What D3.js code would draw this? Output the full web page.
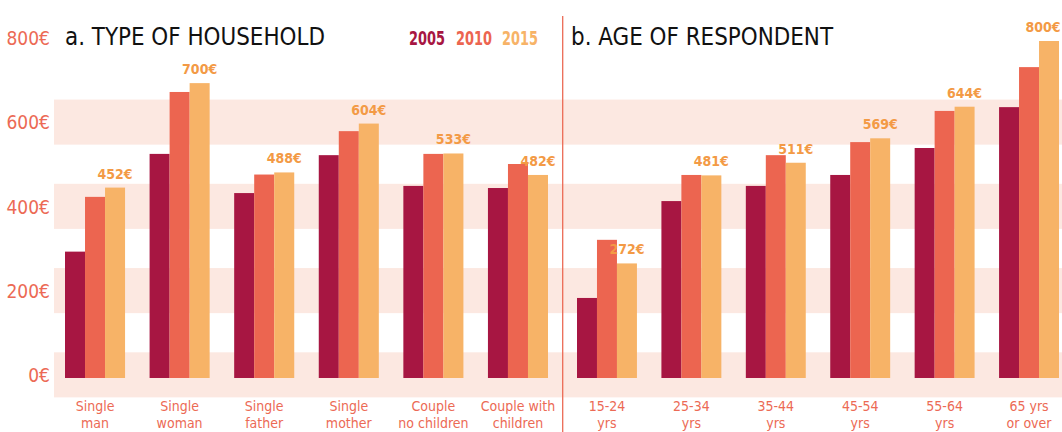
<!DOCTYPE html>
<html>
<head>
<meta charset="utf-8">
<script src="https://cdn.jsdelivr.net/npm/d3@7"></script>
<style>
  body { margin: 0; background: #fff; }
  text { font-family: "Liberation Sans Narrow", "DejaVu Sans Condensed", "Roboto", sans-serif; font-stretch: condensed; }
</style>
</head>
<body>
<svg id="chart"></svg>
<script>
// data
var years = ["2005", "2010", "2015"]

var householdLabels = [["Single", "man"], ["Single", "woman"], ["Single", "father"], ["Single", "mother"], ["Couple", "no children"], ["Couple with", "children"]]
var household2005 = [300, 532, 439, 529, 456, 451]
var household2010 = [430, 679, 483, 586, 532, 508]
var household2015 = [452, 700, 488, 604, 533, 482]

var ageLabels = [["15-24", "yrs"], ["25-34", "yrs"], ["35-44", "yrs"], ["45-54", "yrs"], ["55-64", "yrs"], ["65 yrs", "or over"]]
var age2005 = [190, 420, 456, 482, 546, 643]
var age2010 = [328, 482, 529, 560, 634, 738]
var age2015 = [272, 481, 511, 569, 644, 800]

var yTicks = [0, 200, 400, 600, 800]
var bandTicks = [0, 200, 400, 600]

var colors = {"2005": "#a71642", "2010": "#ec6550", "2015": "#f7b367"}
var salmon = "#ec6a55"
var labelOrange = "#f39a45"

var width = 1062, height = 432

var svg = d3.select("#chart")
    .attr("width", width)
    .attr("height", height)

var y = d3.scaleLinear()
    .domain([0, 800])
    .range([378, 41])

// pale bands behind the bars
svg.append("g")
    .selectAll("rect")
    .data(bandTicks)
    .enter()
    .append("rect")
    .attr("x", 54)
    .attr("width", width - 54)
    .attr("y", function (d) { return y(d + 61) })
    .attr("height", function (d) { return y(d - 46) - y(d + 61) })
    .style("fill", "#fce8e1")

// y labels
svg.append("g")
    .selectAll("text")
    .data(yTicks)
    .enter()
    .append("text")
    .attr("x", 50)
    .attr("y", function (d) { return y(d) - 2.5 })
    .attr("dy", "0.35em")
    .attr("text-anchor", "end")
    .style("font-size", "19px")
    .style("fill", salmon)
    .text(function (d) { return d + "€" })

function drawPanel(labels, s05, s10, s15, x0, x1) {
    var rows = labels.map(function (l, i) {
        return {key: l.join(" "), label: l, "2005": s05[i], "2010": s10[i], "2015": s15[i]}
    })

    var x = d3.scaleBand()
        .domain(rows.map(function (d) { return d.key }))
        .range([x0, x1])
        .paddingInner(0.29)
        .paddingOuter(0)

    var xYear = d3.scaleBand()
        .domain(years)
        .range([0, x.bandwidth()])

    var groups = svg.append("g")
        .selectAll("g")
        .data(rows)
        .enter()
        .append("g")
        .attr("transform", function (d) { return "translate(" + x(d.key) + ",0)" })

    groups.selectAll("rect")
        .data(function (d) { return years.map(function (yr) { return {year: yr, value: d[yr]} }) })
        .enter()
        .append("rect")
        .attr("x", function (d) { return xYear(d.year) })
        .attr("width", xYear.bandwidth())
        .attr("y", function (d) { return y(d.value) })
        .attr("height", function (d) { return y(0) - y(d.value) })
        .style("fill", function (d) { return colors[d.year] })

    // 2015 value on top, kept inside the picture at the right edge
    groups.append("text")
        .attr("x", function (d) {
            var cx = xYear("2015") + xYear.bandwidth() / 2
            return Math.min(cx, width - 19 - x(d.key))
        })
        .attr("y", function (d) { return y(d["2015"]) - 9 })
        .attr("text-anchor", "middle")
        .style("font-size", "14px")
        .style("font-weight", "bold")
        .style("fill", labelOrange)
        .text(function (d) { return d["2015"] + "€" })

    // category labels, two lines
    groups.append("text")
        .attr("x", x.bandwidth() / 2)
        .attr("y", 411)
        .attr("text-anchor", "middle")
        .style("font-size", "14px")
        .style("fill", salmon)
        .text(function (d) { return d.label[0] })

    groups.append("text")
        .attr("x", x.bandwidth() / 2)
        .attr("y", 428)
        .attr("text-anchor", "middle")
        .style("font-size", "14px")
        .style("fill", salmon)
        .text(function (d) { return d.label[1] })
}

drawPanel(householdLabels, household2005, household2010, household2015, 65, 548)
drawPanel(ageLabels, age2005, age2010, age2015, 577, 1059)

// divider between panels
svg.append("line")
    .attr("x1", 562.7).attr("x2", 562.7)
    .attr("y1", 16).attr("y2", height)
    .style("stroke", salmon)
    .style("stroke-width", 1.3)

// titles
svg.append("text")
    .attr("x", 65)
    .attr("y", 45)
    .attr("textLength", 260)
    .attr("lengthAdjust", "spacingAndGlyphs")
    .style("font-size", "25px")
    .style("fill", "#111")
    .text("a. TYPE OF HOUSEHOLD")

svg.append("text")
    .attr("x", 571)
    .attr("y", 45)
    .attr("textLength", 262)
    .attr("lengthAdjust", "spacingAndGlyphs")
    .style("font-size", "25px")
    .style("fill", "#111")
    .text("b. AGE OF RESPONDENT")

// legend
var legendX = [409, 456, 502]
svg.append("g")
    .selectAll("text")
    .data(years)
    .enter()
    .append("text")
    .attr("x", function (d, i) { return legendX[i] })
    .attr("y", 45)
    .attr("textLength", 36)
    .attr("lengthAdjust", "spacingAndGlyphs")
    .style("font-size", "19px")
    .style("font-weight", "bold")
    .style("fill", function (d) { return colors[d] })
    .text(function (d) { return d })
</script>
</body>
</html>
